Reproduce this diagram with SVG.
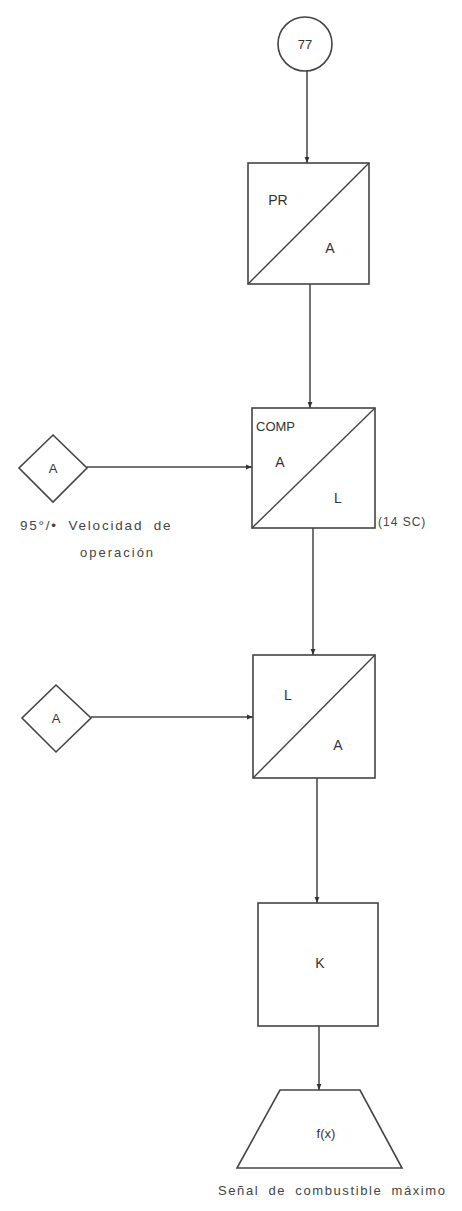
<svg xmlns="http://www.w3.org/2000/svg" width="462" height="1211" viewBox="0 0 462 1211">
<defs>
<marker id="ah" viewBox="0 0 10 10" refX="10" refY="5" markerWidth="7" markerHeight="6" markerUnits="userSpaceOnUse" orient="auto">
<path d="M0,1 L10,5 L0,9 z" fill="#333"/>
</marker>
<style>
.s{fill:#fff;stroke:#444;stroke-width:1.6}
.d{fill:none;stroke:#444;stroke-width:1.4}
.c{fill:none;stroke:#444;stroke-width:1.5;marker-end:url(#ah)}
.t{font-family:"Liberation Sans",Arial,sans-serif;fill:#333}
.n{font-family:"Liberation Sans",Arial,sans-serif;fill:#444}
</style>
</defs>
<rect width="462" height="1211" fill="#fff"/>
<g id="connectors">
<line class="c" x1="307" y1="71" x2="307" y2="163"/>
<line class="c" x1="310" y1="284" x2="310" y2="408"/>
<line class="c" x1="313" y1="528" x2="313" y2="655"/>
<line class="c" x1="317" y1="778" x2="317" y2="903"/>
<line class="c" x1="319" y1="1026" x2="319" y2="1090"/>
<line class="c" x1="87" y1="467" x2="252" y2="467"/>
<line class="c" x1="91" y1="717" x2="253" y2="717"/>
</g>
<g id="n77">
<circle class="s" cx="305" cy="44" r="27"/>
<text class="t" x="305" y="49" text-anchor="middle" font-size="13">77</text>
</g>
<g id="pr">
<rect class="s" x="248" y="163" width="121" height="121"/>
<line class="d" x1="248" y1="284" x2="369" y2="163"/>
<text class="t" x="278" y="205" text-anchor="middle" font-size="14">PR</text>
<text class="t" x="330" y="253" text-anchor="middle" font-size="14">A</text>
</g>
<g id="comp">
<rect class="s" x="252" y="408" width="123" height="120"/>
<line class="d" x1="252" y1="528" x2="375" y2="408"/>
<text class="t" x="256" y="431" font-size="13">COMP</text>
<text class="t" x="280" y="467" text-anchor="middle" font-size="14">A</text>
<text class="t" x="338" y="503" text-anchor="middle" font-size="14">L</text>
<text class="n" x="378" y="526" font-size="12" letter-spacing="1">(14 SC)</text>
</g>
<g id="inA1">
<polygon class="s" points="53,435 87,468 53,502 19,468"/>
<text class="t" x="53" y="473" text-anchor="middle" font-size="13">A</text>
<text class="n" x="20" y="530" font-size="13.5" letter-spacing="1.8" word-spacing="5">95°/• Velocidad de</text>
<text class="n" x="80" y="557" font-size="13" letter-spacing="2">operación</text>
</g>
<g id="la">
<rect class="s" x="253" y="655" width="122" height="123"/>
<line class="d" x1="253" y1="778" x2="375" y2="655"/>
<text class="t" x="288" y="700" text-anchor="middle" font-size="14">L</text>
<text class="t" x="338" y="750" text-anchor="middle" font-size="14">A</text>
</g>
<g id="inA2">
<polygon class="s" points="56,685 91,718 56,752 22,718"/>
<text class="t" x="56" y="723" text-anchor="middle" font-size="13">A</text>
</g>
<g id="k">
<rect class="s" x="258" y="903" width="120" height="123"/>
<text class="t" x="320" y="968" text-anchor="middle" font-size="14">K</text>
</g>
<g id="fx">
<polygon class="s" points="280,1090 360,1090 402,1168 237,1168"/>
<text class="t" x="326" y="1138" text-anchor="middle" font-size="13">f(x)</text>
<text class="n" x="218" y="1195" font-size="13" letter-spacing="1.6" word-spacing="4">Señal de combustible máximo</text>
</g>
</svg>
